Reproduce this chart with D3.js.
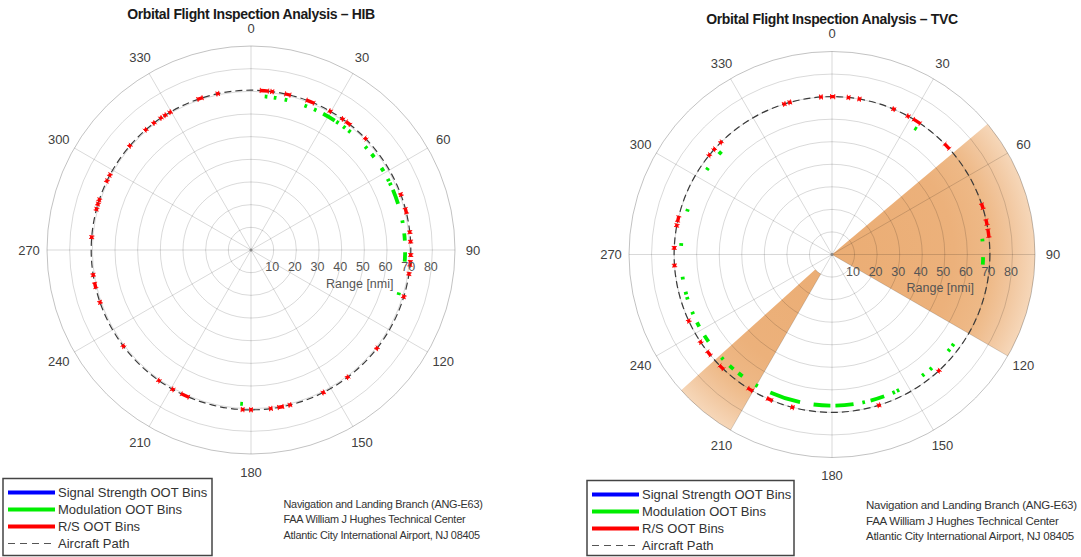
<!DOCTYPE html>
<html><head><meta charset="utf-8">
<script src="https://cdn.jsdelivr.net/npm/d3@7"></script>
<style>
body{margin:0;background:#fff;}
svg{display:block;font-family:"Liberation Sans",Arial,sans-serif;}
</style></head><body>
<svg id="chart" width="1081" height="557"></svg>
<script>
// ---------------- data ----------------
const angleTicks = [0,30,60,90,120,150,180,210,240,270,300,330];
const ringValues = [10,20,30,40,50,60,70,80,90];
const rangeLabels = [10,20,30,40,50,60,70,80];
const maxRange = 90;
const rangeTitle = "Range [nmi]";

const hibTitle = "Orbital Flight Inspection Analysis  \u2013 HIB";
const tvcTitle = "Orbital Flight Inspection Analysis  \u2013 TVC";

const hibPathRange = 70.5;
const hibModRange = 68;
const tvcPathRange = 70;
const tvcModRange = 67;

// R/S OOT bins [startDeg, endDeg]
const hibRedBins = [
  [3.3,6.3],[7.1,8.1],[12.3,14.3],[20.3,23.3],[29.2,30.2],[34.4,35.4],[36.5,38.5],[45.3,46.3],
  [69.2,70.2],[74.8,76.8],[83.1,84.1],[86.5,87.5],[91.3,92.3],[93.8,95.8],[98.1,99.1],[106.5,107.5],
  [127.5,128.5],[142.3,143.3],[152.6,153.6],[165.4,166.4],[168.3,170.3],[172.4,173.4],[179.5,180.5],
  [182.5,183.5],[202.9,205.9],[208.8,209.8],[214.7,215.7],[232.5,233.5],[250.4,251.4],[256.2,258.2],
  [260.5,261.5],[274.1,275.1],[284.3,285.3],[286.2,287.2],[287.8,288.8],[295.1,296.1],[297.5,298.5],
  [310.2,311.2],[318.3,319.3],[322.1,323.1],[325.2,326.2],[327,328],[329.1,330.1],[340.4,342.4],[347.5,348.5]
];
// Modulation OOT bins [startDeg, endDeg]
const hibModBins = [
  [5.1,6.1],[8.5,9.5],[12.6,13.6],[20.3,21.3],[24.1,25.1],[27.9,32.9],[33.6,34.6],[36.7,37.7],
  [39.2,40.2],[47.8,48.8],[51.5,53],[57.8,59.3],[62.5,63.5],[64.2,65.2],[67,72.6],[78.9,79.9],
  [83.8,86.5],[90.8,94.3],[106,107],[183,184]
];

const tvcRedBins = [
  [355.5,356.5],[359.5,361],[5.5,6.5],[9.5,10.5],[22.5,23.5],[28.3,29.3],[31,34],[45.5,48],
  [71.2,73.2],[77.2,79.2],[80.8,83.7],[136.9,137.9],[162.2,163.2],[194,195],[202.3,204.3],
  [210.2,212.2],[223.4,225.4],[230.2,232.2],[235.8,236.8],[244.6,245.6],[265.5,266.5],[271.9,272.9],
  [280.1,281.1],[282,284],[308.5,309.5],[311.3,312.3],[314.8,315.8],[341.9,342.9],[344,345]
];
const tvcModBins = [
  [33.1,34.1],[84,85],[91,93.8],[126.3,127.3],[128.8,129.8],[138.6,139.6],[142.4,143.4],
  [153.6,154.6],[155.4,156.4],[159.8,165.2],[167.4,168.4],[171.8,178.7],[180.6,187],[192.2,204.1],
  [209.4,210.4],[216.3,218.3],[220.7,222.7],[226,227],[234.8,237.6],[241.5,243.3],[246.7,247.7],
  [252.7,253.7],[254.7,255.7],[260.5,261.5],[273.3,274.3],[286.5,287.5],[304,305],[311.5,313]
];
// shaded sectors {start, end, inner range}
const tvcSectors = [
  {start: 50, end: 120, inner: 0},
  {start: 210, end: 228, inner: 10}
];

const legendLabels = ["Signal Strength OOT Bins","Modulation OOT Bins","R/S OOT Bins","Aircraft Path"];
const legendColors = ["#0000ff","#00ee00","#ff0000","#555555"];
const creditLines = [
  "Navigation and Landing Branch (ANG-E63)",
  "FAA William J Hughes Technical Center",
  "Atlantic City International Airport, NJ 08405"
];

// ---------------- drawing ----------------
const svg = d3.select("#chart");
const defs = svg.append("defs");

function polar(cfg) {
  const g = svg.append("g").attr("transform", `translate(${cfg.cx},${cfg.cy})`);
  const r = d3.scaleLinear().domain([0, maxRange]).range([0, cfg.R]);
  const a = d3.scaleLinear().domain([0, 360]).range([0, 2 * Math.PI]);
  const R = r(maxRange);
  const arc = d3.arc();

  // sectors
  if (cfg.sectors) {
    const gid = cfg.id + "grad";
    const grad = defs.append("radialGradient").attr("id", gid)
      .attr("gradientUnits", "userSpaceOnUse").attr("cx", 0).attr("cy", 0).attr("r", R);
    [[0,"#ebad74"],[0.6,"#ecb17b"],[0.78,"#eeb987"],[0.88,"#f1c59c"],[1,"#f6d7b9"]].forEach(s =>
      grad.append("stop").attr("offset", s[0]).attr("stop-color", s[1]));
    g.selectAll("path.sector").data(cfg.sectors).join("path")
      .attr("class", "sector")
      .attr("d", d => arc({innerRadius: r(d.inner), outerRadius: R, startAngle: a(d.start), endAngle: a(d.end)}))
      .attr("fill", `url(#${gid})`);
  }

  // grid
  g.selectAll("circle.ring").data(ringValues).join("circle")
    .attr("r", d => r(d)).attr("fill", "none")
    .attr("stroke", "#000").attr("stroke-opacity", d => d === maxRange ? 0.24 : 0.15).attr("stroke-width", 1);
  g.selectAll("line.spoke").data(angleTicks).join("line")
    .attr("x1", 0).attr("y1", 0)
    .attr("x2", d => R * Math.sin(a(d))).attr("y2", d => -R * Math.cos(a(d)))
    .attr("stroke", "#000").attr("stroke-opacity", 0.15).attr("stroke-width", 1);
  g.append("circle").attr("r", 1.5).attr("fill", "#888");

  // aircraft path
  g.append("circle").attr("r", r(cfg.pathRange)).attr("fill", "none")
    .attr("stroke", "#3a3a3a").attr("stroke-width", 1.2).attr("stroke-dasharray", "7,4");

  // modulation bins
  const rm = r(cfg.modRange);
  g.selectAll("path.mod").data(cfg.modBins).join("path")
    .attr("d", d => arc({innerRadius: rm - 1.9, outerRadius: rm + 1.9, startAngle: a(d[0]), endAngle: a(d[1])}))
    .attr("fill", "#00ee00");

  // R/S bins
  const rp = r(cfg.pathRange);
  g.selectAll("path.rs").data(cfg.redBins).join("path")
    .attr("d", d => arc({innerRadius: rp - 1.7, outerRadius: rp + 1.7, startAngle: a(d[0]), endAngle: a(d[1])}))
    .attr("fill", "#ff0000");
  const caps = cfg.redBins.flatMap(d => [d[0], d[1]]);
  g.selectAll("line.cap").data(caps).join("line")
    .attr("x1", d => (rp - 2.6) * Math.sin(a(d))).attr("y1", d => -(rp - 2.6) * Math.cos(a(d)))
    .attr("x2", d => (rp + 2.6) * Math.sin(a(d))).attr("y2", d => -(rp + 2.6) * Math.cos(a(d)))
    .attr("stroke", "#ff0000").attr("stroke-width", 0.9);

  // angle labels
  const lr = R + 18;
  g.selectAll("text.ang").data(angleTicks).join("text")
    .attr("x", d => lr * Math.sin(a(d))).attr("y", d => -lr * Math.cos(a(d)))
    .attr("text-anchor", "middle").attr("dominant-baseline", "central")
    .attr("font-size", 13).attr("fill", "#404040").text(d => d);

  // range labels
  g.selectAll("text.rng").data(rangeLabels).join("text")
    .attr("x", d => r(d) - 1.5).attr("y", 17)
    .attr("text-anchor", "middle").attr("dominant-baseline", "central")
    .attr("font-size", 12.5).attr("fill", "#555").text(d => d);
  g.append("text").attr("x", r(48)).attr("y", 33.5)
    .attr("text-anchor", "middle").attr("dominant-baseline", "central")
    .attr("font-size", 12.5).attr("fill", "#555").text(rangeTitle);

  // title
  svg.append("text").attr("x", cfg.cx).attr("y", cfg.titleY)
    .attr("text-anchor", "middle").attr("dominant-baseline", "central")
    .attr("font-size", 14).attr("font-weight", "bold").attr("fill", "#1a1a1a")
    .attr("letter-spacing", -0.35).text(cfg.title);

  // legend
  const lg = svg.append("g").attr("transform", `translate(${cfg.legend.x},${cfg.legend.y})`);
  lg.append("rect").attr("x", 0).attr("y", 0).attr("width", cfg.legend.w).attr("height", cfg.legend.h)
    .attr("fill", "#fff").attr("stroke", "#444").attr("stroke-width", 1.5);
  const ly = d3.scalePoint().domain(legendLabels).range([14, 65]);
  legendLabels.forEach((lab, i) => {
    const y = ly(lab);
    lg.append("line").attr("x1", 5).attr("x2", 52).attr("y1", y).attr("y2", y)
      .attr("stroke", legendColors[i]).attr("stroke-width", i === 3 ? 1.2 : 4)
      .attr("stroke-dasharray", i === 3 ? "7,5" : null);
    lg.append("text").attr("x", 55).attr("y", y).attr("dominant-baseline", "central")
      .attr("font-size", 13).attr("fill", "#333").text(lab);
  });

  // credits
  const cy = d3.scalePoint().domain(creditLines).range([cfg.credit.y, cfg.credit.y + 31]);
  creditLines.forEach(t => {
    svg.append("text").attr("x", cfg.credit.x).attr("y", cy(t)).attr("dominant-baseline", "central")
      .attr("font-size", cfg.credit.fs).attr("fill", "#333").attr("letter-spacing", -0.25).text(t);
  });
}

polar({id: "hib", cx: 251, cy: 250, R: 204, title: hibTitle, titleY: 14,
  pathRange: hibPathRange, modRange: hibModRange, redBins: hibRedBins, modBins: hibModBins,
  legend: {x: 3, y: 478.5, w: 209, h: 77}, credit: {x: 283.5, y: 503.5, fs: 10.9}});
polar({id: "tvc", cx: 832, cy: 254.5, R: 203, title: tvcTitle, titleY: 18.5,
  pathRange: tvcPathRange, modRange: tvcModRange, redBins: tvcRedBins, modBins: tvcModBins,
  sectors: tvcSectors,
  legend: {x: 587, y: 480.5, w: 207, h: 75}, credit: {x: 866, y: 505, fs: 11.5}});
</script>
</body></html>
